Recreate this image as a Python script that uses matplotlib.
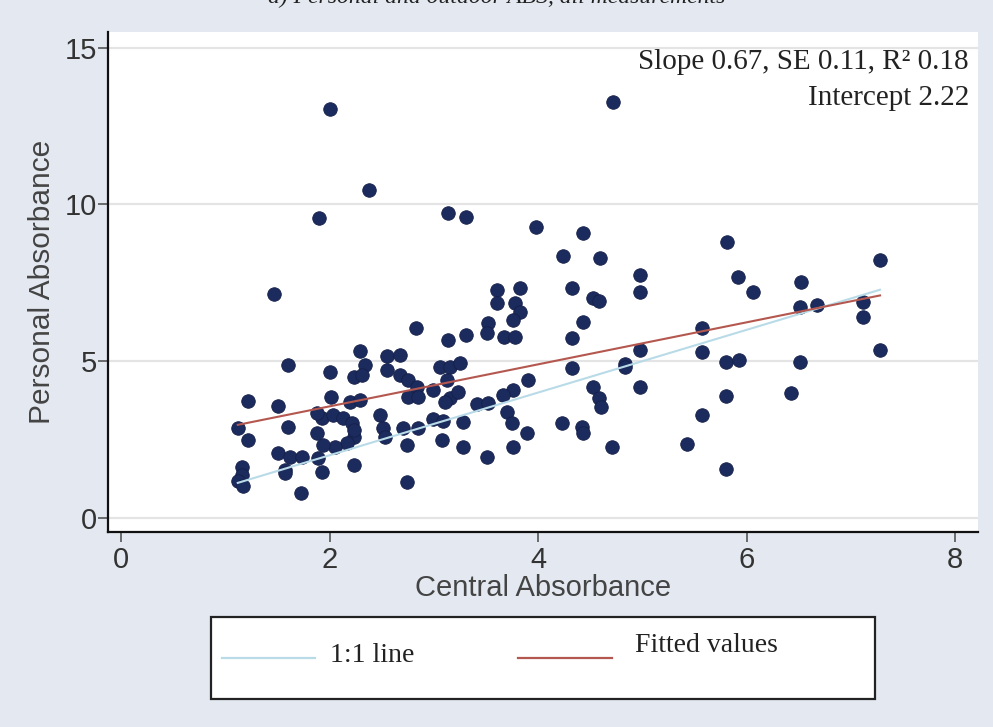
import matplotlib
matplotlib.use("Agg")
import matplotlib.pyplot as plt
from matplotlib.lines import Line2D
from matplotlib.patches import Rectangle
import numpy as np

# Central vs personal absorbance, one point per measurement
central = [
    2.00, 4.72, 2.38, 1.90, 3.14, 3.31, 3.98, 4.43, 4.24, 4.59,
    5.81, 7.28, 4.98, 5.92, 6.52, 6.06, 4.98, 1.47, 3.61, 3.83,
    4.33, 4.53, 4.58, 3.61, 3.78, 3.83, 3.76, 3.52, 3.51, 3.67,
    3.78, 4.43, 4.33, 2.83, 3.14, 3.31, 6.51, 6.68, 7.12, 7.12,
    7.28, 5.57, 5.57, 4.98, 4.83, 4.83, 4.33, 4.98, 5.80, 5.93,
    6.51, 6.43, 5.80, 5.57, 5.43, 5.80, 4.71, 4.53, 4.58, 4.60,
    4.23, 4.42, 4.43, 3.90, 3.76, 3.66, 3.41, 3.52, 3.70, 3.75,
    3.89, 3.76, 3.51, 3.06, 3.16, 3.25, 2.99, 3.13, 3.16, 3.23,
    3.11, 2.99, 3.09, 3.28, 3.08, 3.28, 2.29, 2.34, 2.23, 2.31,
    2.55, 2.68, 2.55, 2.68, 2.75, 2.84, 2.75, 2.85, 2.20, 2.29,
    2.48, 2.51, 2.53, 2.70, 2.74, 2.85, 2.74, 2.23, 1.60, 2.00,
    1.22, 1.51, 2.01, 1.12, 1.22, 1.60, 1.93, 2.03, 2.13, 2.22,
    2.23, 2.17, 2.05, 1.94, 1.88, 1.88, 1.51, 1.62, 1.74, 1.57,
    1.57, 1.89, 1.93, 1.16, 1.16, 1.12, 1.17, 1.73, 2.23,
]
personal = [
    13.05, 13.27, 10.46, 9.57, 9.73, 9.60, 9.28, 9.09, 8.36, 8.29,
    8.80, 8.23, 7.75, 7.69, 7.53, 7.21, 7.21, 7.15, 7.27, 7.34,
    7.34, 7.02, 6.92, 6.86, 6.86, 6.57, 6.32, 6.22, 5.90, 5.77,
    5.77, 6.25, 5.74, 6.06, 5.68, 5.84, 6.73, 6.79, 6.89, 6.41,
    5.36, 6.06, 5.30, 5.36, 4.92, 4.80, 4.78, 4.18, 4.98, 5.04,
    4.98, 3.99, 3.89, 3.29, 2.36, 1.56, 2.27, 4.18, 3.83, 3.55,
    3.03, 2.90, 2.71, 4.40, 4.08, 3.92, 3.62, 3.66, 3.38, 3.03,
    2.71, 2.26, 1.95, 4.82, 4.82, 4.94, 4.08, 4.40, 3.83, 4.02,
    3.70, 3.16, 3.09, 3.06, 2.49, 2.26, 5.33, 4.88, 4.50, 4.56,
    5.17, 5.20, 4.72, 4.56, 4.40, 4.18, 3.86, 3.86, 3.70, 3.76,
    3.29, 2.87, 2.58, 2.87, 2.33, 2.87, 1.15, 1.69, 4.88, 4.66,
    3.73, 3.57, 3.86, 2.87, 2.49, 2.90, 3.19, 3.29, 3.19, 3.03,
    2.58, 2.39, 2.26, 2.33, 2.71, 3.35, 2.07, 1.95, 1.95, 1.53,
    1.45, 1.91, 1.47, 1.63, 1.38, 1.18, 1.02, 0.80, 2.81,
]

slope, intercept = 0.67, 2.22
x_ticks = [0, 2, 4, 6, 8]
y_ticks = [0, 5, 10, 15]

bg = "#e4e9f1"
dot = "#1c2b5e"
sans = ["Liberation Sans", "DejaVu Sans"]
serif = ["Liberation Serif", "DejaVu Serif"]

fig = plt.figure(figsize=(9.93, 7.27), dpi=100, facecolor=bg)
ax = fig.add_axes([108 / 993, 1 - 532 / 727, 870 / 993, 500 / 727])
ax.set_facecolor("white")

ax.set_xlim(-0.125, 8.22)
ax.set_ylim(-0.447, 15.5)

for yv in y_ticks:
    ax.axhline(yv, color="#e4e4e4", lw=1.6, zorder=1)

ax.scatter(central, personal, s=95, color=dot, edgecolors="#141f48",
           linewidths=0.6, zorder=3)

xs = np.array([min(central), max(central)])
ax.plot(xs, xs, color="#b9dbe8", lw=1.5, zorder=4)
ax.plot(xs, slope * xs + intercept, color="#b4584f", lw=1.5, zorder=4)

for side in ("top", "right"):
    ax.spines[side].set_visible(False)
for side in ("left", "bottom"):
    ax.spines[side].set_linewidth(1.6)
    ax.spines[side].set_color("#111111")

ax.set_xticks(x_ticks)
ax.set_yticks(y_ticks)
ax.tick_params(axis="both", direction="out", length=7, width=1.2,
               color="#555555", labelsize=21, labelcolor="#333333")
ax.tick_params(axis="y", pad=1)
ax.tick_params(axis="x", pad=3)
for lab in ax.get_xticklabels() + ax.get_yticklabels():
    lab.set_family(sans)

ax.set_xlabel("Central Absorbance", fontsize=21, color="#444444",
              family=sans, labelpad=0)
ax.set_ylabel("Personal Absorbance", fontsize=21.5, color="#444444",
              family=sans, labelpad=6)

ax.text(0.9895, 0.94, "Slope 0.67, SE 0.11, R\u00b2 0.18", transform=ax.transAxes,
        ha="right", va="center", fontsize=21, family=serif, color="#222222")
ax.text(0.9895, 0.868, "Intercept 2.22", transform=ax.transAxes,
        ha="right", va="center", fontsize=21, family=serif, color="#222222")

# Title sitting at the very top edge
fig.text(0.5, 1 - 3 / 727, "a) Personal and outdoor ABS, all measurements",
         ha="center", va="baseline", fontsize=17, style="italic",
         family=serif, color="#222222")

# Legend box below the x axis
W, H = 993, 727
fig.add_artist(Rectangle((211 / W, 1 - 699 / H), (875 - 211) / W, (699 - 617) / H,
                         transform=fig.transFigure, facecolor="white",
                         edgecolor="#222222", lw=1.6))
fig.add_artist(Line2D([222 / W, 315 / W], [1 - 658 / H] * 2,
                      transform=fig.transFigure, color="#b9dbe8", lw=1.6))
fig.add_artist(Line2D([518 / W, 612 / W], [1 - 658 / H] * 2,
                      transform=fig.transFigure, color="#b4584f", lw=1.6))
fig.text(330 / W, 1 - 655 / H, "1:1 line", ha="left", va="center",
         fontsize=20, family=serif, color="#222222")
fig.text(635 / W, 1 - 646 / H, "Fitted values", ha="left", va="center",
         fontsize=20, family=serif, color="#222222")

fig.savefig("out.png", dpi=100, facecolor=bg)
